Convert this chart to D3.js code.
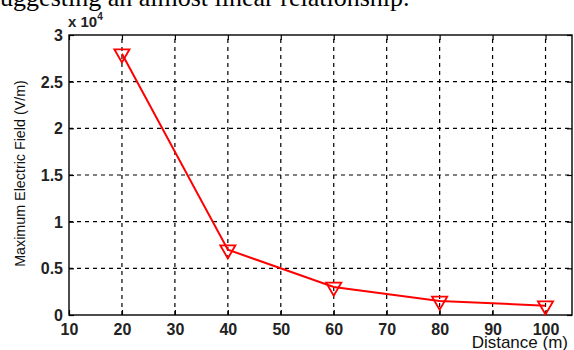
<!DOCTYPE html>
<html>
<head>
<meta charset="utf-8">
<script src="https://cdn.jsdelivr.net/npm/d3@7"></script>
<style>
  body { margin: 0; background: #fff; }
  svg { display: block; }
</style>
</head>
<body>
<svg width="574" height="350"></svg>
<script>
// data
var distances = [20, 40, 60, 80, 100];
var fieldValues = [2.8, 0.7, 0.3, 0.15, 0.1]; // x 10^4 V/m
var xTicks = [10, 20, 30, 40, 50, 60, 70, 80, 90, 100];
var yTicks = [0, 0.5, 1, 1.5, 2, 2.5, 3];
var yTickLabels = ["0", "0.5", "1", "1.5", "2", "2.5", "3"];

var margins = { top: 35, bottom: 35, left: 69, right: 2 };
var width = 574;
var height = 350;
var sans = "Liberation Sans, Arial, sans-serif";

var svg = d3.select("svg");

// clipped caption text above the figure
svg.append("text")
  .attr("x", -10)
  .attr("y", 6)
  .attr("font-family", "Liberation Serif, serif")
  .attr("font-size", 26)
  .attr("fill", "#000")
  .text("suggesting an almost linear relationship.");

var xScale = d3.scaleLinear()
  .domain([10, 105])
  .range([margins.left, width - margins.right]);

var yScale = d3.scaleLinear()
  .domain([0, 3])
  .range([height - margins.bottom, margins.top]);

var plotW = xScale(105) - xScale(10);
var plotH = yScale(0) - yScale(3);

// grid
svg.append("g").selectAll("line")
  .data(xTicks.filter(d => d > 10))
  .enter().append("line")
  .attr("x1", d => xScale(d)).attr("x2", d => xScale(d))
  .attr("y1", yScale(0)).attr("y2", yScale(3))
  .attr("stroke", "#000").attr("stroke-width", 1.2)
  .attr("stroke-dasharray", "4,4");

svg.append("g").selectAll("line")
  .data(yTicks.filter(d => d > 0 && d < 3))
  .enter().append("line")
  .attr("x1", xScale(10)).attr("x2", xScale(105))
  .attr("y1", d => yScale(d)).attr("y2", d => yScale(d))
  .attr("stroke", "#000").attr("stroke-width", 1.2)
  .attr("stroke-dasharray", "4,4");

// axes (ticks inside)
var xAxis = svg.append("g")
  .attr("transform", `translate(0, ${yScale(0)})`)
  .call(d3.axisBottom(xScale).tickValues(xTicks).tickSize(-5).tickPadding(9).tickFormat(d3.format("d")));
var xAxisTop = svg.append("g")
  .attr("transform", `translate(0, ${yScale(3)})`)
  .call(d3.axisTop(xScale).tickValues(xTicks).tickSize(-5).tickFormat(""));
var yAxis = svg.append("g")
  .attr("transform", `translate(${xScale(10)}, 0)`)
  .call(d3.axisLeft(yScale).tickValues(yTicks).tickSize(-5).tickPadding(6)
    .tickFormat((d, i) => yTickLabels[i]));
var yAxisRight = svg.append("g")
  .attr("transform", `translate(${xScale(105)}, 0)`)
  .call(d3.axisRight(yScale).tickValues(yTicks).tickSize(-5).tickFormat(""));

[xAxis, xAxisTop, yAxis, yAxisRight].forEach(g => {
  g.select(".domain").remove();
  g.selectAll(".tick line").attr("stroke", "#000").attr("stroke-width", 1.2);
  g.selectAll("text")
    .attr("font-family", sans)
    .attr("font-size", 16)
    .attr("font-weight", "bold")
    .attr("fill", "#222");
});
yAxis.selectAll("text").attr("dy", "0.35em");
xAxis.selectAll("text").attr("dy", "0.71em");

// frame
svg.append("rect")
  .attr("x", xScale(10)).attr("y", yScale(3))
  .attr("width", plotW).attr("height", plotH)
  .attr("fill", "none").attr("stroke", "#000").attr("stroke-width", 1.4);

// exponent label
var expo = svg.append("text")
  .attr("x", 68).attr("y", 27)
  .attr("font-family", sans)
  .attr("font-size", 15)
  .attr("font-weight", "bold")
  .attr("fill", "#222");
expo.append("tspan").text("x 10");
expo.append("tspan").attr("dy", -7).attr("font-size", 10).text("4");

// axis titles
svg.append("text")
  .attr("transform", `translate(25, ${yScale(1.5) - 1.5}) rotate(-90)`)
  .attr("text-anchor", "middle")
  .attr("font-family", sans)
  .attr("font-size", 14.3)
  .attr("fill", "#111")
  .text("Maximum Electric Field (V/m)");

svg.append("text")
  .attr("x", 568).attr("y", 348)
  .attr("text-anchor", "end")
  .attr("font-family", sans)
  .attr("font-size", 17)
  .attr("fill", "#111")
  .text("Distance (m)");

// series line
var points = distances.map((d, i) => ({ x: d, y: fieldValues[i] }));
var line = d3.line().x(d => xScale(d.x)).y(d => yScale(d.y));

svg.append("path")
  .datum(points)
  .attr("d", line)
  .attr("fill", "none")
  .attr("stroke", "#ff0000")
  .attr("stroke-width", 2);

// downward triangle markers
var tri = d3.symbol().type(d3.symbolTriangle).size(100);
svg.append("g").selectAll("path")
  .data(points)
  .enter().append("path")
  .attr("d", tri)
  .attr("transform", d => `translate(${xScale(d.x)}, ${yScale(d.y)}) rotate(180)`)
  .attr("fill", "none")
  .attr("stroke", "#ff0000")
  .attr("stroke-width", 1.8);
</script>
</body>
</html>
